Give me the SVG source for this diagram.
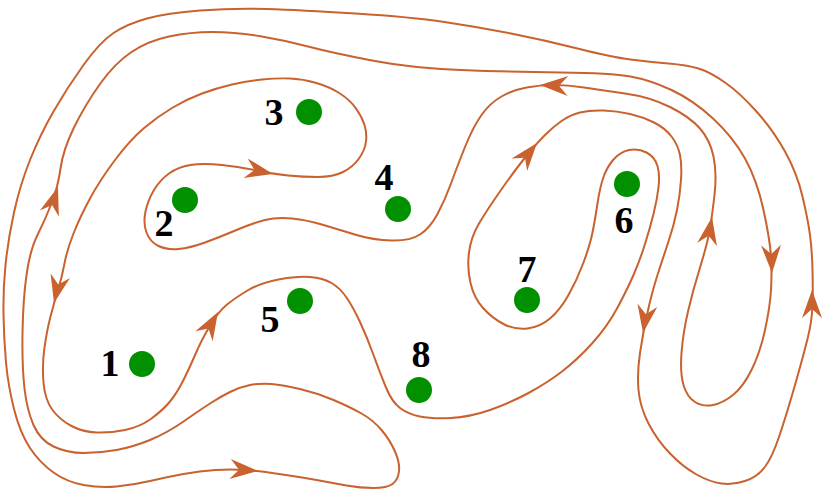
<svg xmlns="http://www.w3.org/2000/svg" xmlns:xlink="http://www.w3.org/1999/xlink" width="822" height="498" viewBox="0 0 822 498">
<style>
.curve{fill:none;stroke:#C9622F;stroke-width:2;stroke-linejoin:round}
.ah{fill:#C9622F;stroke:none}
.dot{fill:#009000}
.lbl{font-family:"Liberation Serif","Times New Roman",serif;font-weight:bold;font-size:38px;fill:#000;text-anchor:middle}
</style>
<defs>
<path id="ah" class="ah" d="M0,0 L-28,-10 L-19,0 L-28,10 Z"/>
</defs>
<rect width="822" height="498" fill="#fff"/>
<g id="connectors">
<path class="curve" d="M257,170.5 Q273,174 288,175.5 Q303,177 318,177 Q333,177 343,172 Q353,167 359,158.5 Q365,150 366,141.5 Q367,133 364.5,125 Q362,117 356,108.5 Q350,100 340,93.5 Q330,87 316.5,83 Q303,79 290,78.5 Q277,78 262,79.5 Q247,81 232,84.5 Q217,88 202,93.5 Q187,99 172,108 Q157,117 143.5,128.5 Q130,140 115,160 Q100,180 90,198.5 Q80,217 73.5,233.5 Q67,250 64.5,263.5 Q62,277 58,290 Q54,303 50.5,316.5 Q47,330 44.5,347.5 Q42,365 43.5,382.5 Q45,400 52.5,410 Q60,420 71.5,426 Q83,432 96.5,432.5 Q110,433 125,430 Q140,427 151.5,418.5 Q163,410 170,401.5 Q177,393 183.5,380 Q190,367 195.5,354 Q201,341 209.5,326.5 Q218,312 226.5,305 Q235,298 247.5,290.5 Q260,283 278.5,279.5 Q297,276 310,277 Q323,278 331.5,283 Q340,288 346.5,297.5 Q353,307 360,322 Q367,337 373.5,355 Q380,373 386,387.5 Q392,402 400,408 Q408,414 420,416.5 Q432,419 451,418 Q470,417 490,410 Q510,403 528.5,393 Q547,383 562,371.5 Q577,360 592,343.5 Q607,327 617,308.5 Q627,290 633.5,275 Q640,260 645,244 Q650,228 653.5,214 Q657,200 658.5,187.5 Q660,175 657.5,166 Q655,157 646.5,152.5 Q638,148 629,150 Q620,152 613.5,159.5 Q607,167 603.5,177 Q600,187 597.5,203.5 Q595,220 592.5,232.5 Q590,245 583.5,262.5 Q577,280 568.5,295 Q560,310 550,318.5 Q540,327 527.5,328.5 Q515,330 503.5,324 Q492,318 483,308 Q474,298 470.5,283 Q467,268 469,252.5 Q471,237 479,223.5 Q487,210 501,190 Q515,170 526,156.5 Q537,143 545,135 Q553,127 561.5,121 Q570,115 580,112.5 Q590,110 603.5,110.5 Q617,111 630,114 Q643,117 654,122.5 Q665,128 671.5,136.5 Q678,145 680,155 Q682,165 681,180 Q680,195 677,210 Q674,225 668.5,241.5 Q663,258 657.5,275 Q652,292 647.5,312.5 Q643,333 640,353 Q637,373 638.5,390 Q640,407 648.5,423.5 Q657,440 670,453.5 Q683,467 696.5,474.5 Q710,482 721.5,483.5 Q733,485 745,481 Q757,477 764.5,467.5 Q772,458 779.5,435.5 Q787,413 795,385 Q803,357 807.5,339 Q812,321 812.5,305.5 Q813,290 812.5,270 Q812,250 810,235 Q808,220 802.5,196.5 Q797,173 785,151.5 Q773,130 756.5,111.5 Q740,93 725,82.5 Q710,72 698.5,68.5 Q687,65 668.5,63.5 Q650,62 630.5,59.5 Q611,57 577.5,48.5 Q544,40 511,33.5 Q478,27 444.5,22 Q411,17 355.5,13.5 Q300,10 266.5,9 Q233,8 200,10.5 Q167,13 147,18.5 Q127,24 113.5,33 Q100,42 83.5,65 Q67,88 53.5,111.5 Q40,135 30,160 Q20,185 14,212.5 Q8,240 5.5,265 Q3,290 3.5,315 Q4,340 6,362.5 Q8,385 14,409 Q20,433 30,448 Q40,463 53.5,472.5 Q67,482 83.5,485 Q100,488 116.5,486.5 Q133,485 150,481 Q167,477 183.5,474 Q200,471 215.5,470 Q231,469 244.5,470 Q258,471 279,474 Q300,477 316.5,480 Q333,483 346.5,485.5 Q360,488 373.5,488 Q387,488 392.5,484 Q398,480 399,471.5 Q400,463 395,451.5 Q390,440 381.5,430 Q373,420 361.5,413.5 Q350,407 333.5,400 Q317,393 300,389 Q283,385 271.5,384 Q260,383 250,385 Q240,387 230,392 Q220,397 210,403.5 Q200,410 183.5,421.5 Q167,433 150,440 Q133,447 116.5,450 Q100,453 83.5,453 Q67,453 53.5,446.5 Q40,440 33.5,425 Q27,410 24.5,388.5 Q22,367 22.5,333.5 Q23,300 26.5,275 Q30,250 37.5,235 Q45,220 51.5,203.5 Q58,187 60.5,168.5 Q63,150 74,127.5 Q85,105 100,84 Q115,63 131.5,52 Q148,41 169,36.5 Q190,32 212.5,32 Q235,32 259,36 Q283,40 308,46.5 Q333,53 372,60.5 Q411,68 461,70 Q511,72 561,72.5 Q611,73 630.5,76.5 Q650,80 671.5,90 Q693,100 713,118.5 Q733,137 745,158.5 Q757,180 763.5,210 Q770,240 771,256.5 Q772,273 771,290 Q770,307 765,330 Q760,353 751.5,370 Q743,387 733,395 Q723,403 713,405 Q703,407 695,402 Q687,397 683.5,385 Q680,373 681.5,353 Q683,333 688,311.5 Q693,290 700,267.5 Q707,245 709.5,231 Q712,217 714.5,195 Q717,173 713.5,156.5 Q710,140 700,128.5 Q690,117 670,107 Q650,97 625,93.5 Q600,90 584,87.5 Q568,85 554,85 Q540,85 526.5,87.5 Q513,90 501.5,96.5 Q490,103 481.5,115 Q473,127 465,147 Q457,167 451,183.5 Q445,200 437.5,214 Q430,228 420,234.5 Q410,241 391.5,240.5 Q373,240 356.5,235 Q340,230 323.5,225 Q307,220 292,218.5 Q277,217 265,220 Q253,223 236.5,230 Q220,237 205,242.5 Q190,248 178.5,249 Q167,250 158.5,246 Q150,242 146.5,232.5 Q143,223 145.5,211.5 Q148,200 154,190 Q160,180 169,173.5 Q178,167 190.5,165 Q203,163 222,165 Q241,167 257,170.5 Z"/>
<use xlink:href="#ah" transform="translate(273,174) rotate(12)"/>
<use xlink:href="#ah" transform="translate(54,303) rotate(103)"/>
<use xlink:href="#ah" transform="translate(218,312) rotate(-60)"/>
<use xlink:href="#ah" transform="translate(258,471) rotate(4)"/>
<use xlink:href="#ah" transform="translate(58,187) rotate(-72)"/>
<use xlink:href="#ah" transform="translate(540,85) rotate(182)"/>
<use xlink:href="#ah" transform="translate(537,143) rotate(-51)"/>
<use xlink:href="#ah" transform="translate(643,333) rotate(99)"/>
<use xlink:href="#ah" transform="translate(712,217) rotate(-80)"/>
<use xlink:href="#ah" transform="translate(772,273) rotate(88)"/>
<use xlink:href="#ah" transform="translate(812,290) rotate(-90)"/>
</g>
<g id="node1"><circle class="dot" cx="142" cy="364" r="13"/><text class="lbl" x="110" y="376">1</text></g>
<g id="node2"><circle class="dot" cx="185" cy="200" r="13"/><text class="lbl" x="164" y="236">2</text></g>
<g id="node3"><circle class="dot" cx="309" cy="112" r="13"/><text class="lbl" x="274" y="125">3</text></g>
<g id="node4"><circle class="dot" cx="398" cy="209" r="13"/><text class="lbl" x="384" y="190">4</text></g>
<g id="node5"><circle class="dot" cx="300" cy="301" r="13"/><text class="lbl" x="270" y="332">5</text></g>
<g id="node6"><circle class="dot" cx="627" cy="184" r="13"/><text class="lbl" x="624" y="233">6</text></g>
<g id="node7"><circle class="dot" cx="527" cy="300" r="13"/><text class="lbl" x="527" y="282">7</text></g>
<g id="node8"><circle class="dot" cx="419" cy="390" r="13"/><text class="lbl" x="421" y="367">8</text></g>
</svg>
